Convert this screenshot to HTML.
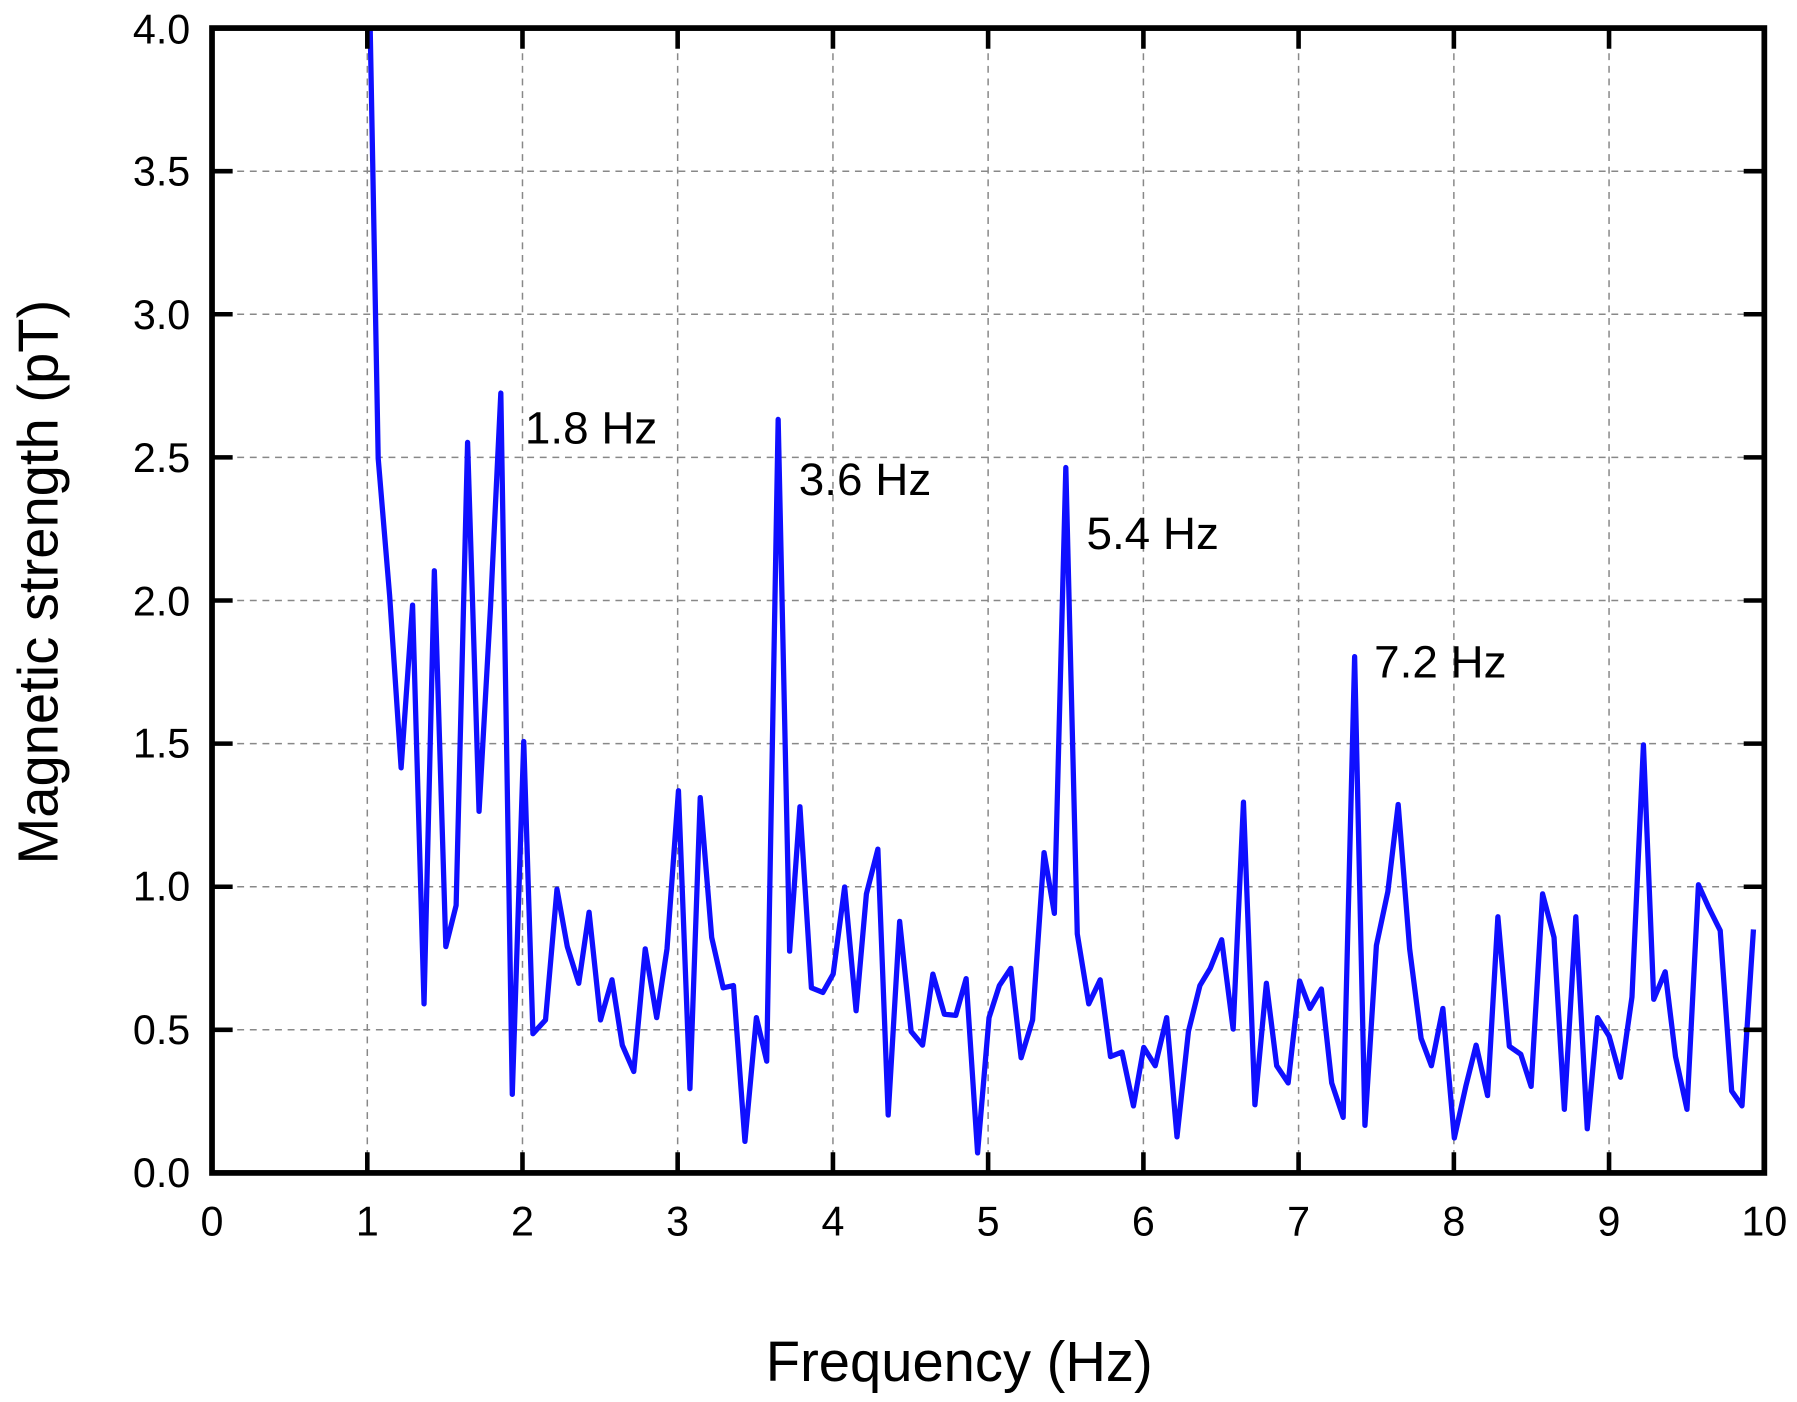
<!DOCTYPE html>
<html><head><meta charset="utf-8"><style>
html,body{margin:0;padding:0;background:#fff}
svg{display:block}
text{font-family:"Liberation Sans",Arial,sans-serif;fill:#000}
</style></head><body>
<svg width="1797" height="1402" viewBox="0 0 1568 1223.4" preserveAspectRatio="none" xmlns="http://www.w3.org/2000/svg">
<g stroke="#888" stroke-width="1.3" stroke-dasharray="6,5" fill="none">
<path d="M320.5 24.5V1023.5M455.9 24.5V1023.5M591.3 24.5V1023.5M726.8 24.5V1023.5M862.2 24.5V1023.5M997.7 24.5V1023.5M1133.1 24.5V1023.5M1268.6 24.5V1023.5M1404 24.5V1023.5"/>
<path d="M185 149.4H1539.5M185 274.2H1539.5M185 399.1H1539.5M185 524H1539.5M185 648.9H1539.5M185 773.8H1539.5M185 898.6H1539.5"/>
</g>
<polyline fill="none" stroke="#0f0fff" stroke-width="4.6" stroke-linejoin="round" points="323,24 330,400 340,520 350,670 360,528 370,876 379,498 389,826 398,790 408,386 418,708 428,530 437,343 447,955 457,647 465,902 476,890 486,776 495,826 505,858 514,796 524,890 534,855 543,912 553,935 563,828 573,888 582,828 592,690 602,950 611,696 621,818 631,862 640,860 650,996 660,888 669,926 679,366 689,830 698,704 708,862 718,866 727,850 737,774 747,882 756,780 766,741 775,973 785,804 795,900 805,912 814,850 824,885 834,886 843,854 853,1006 863,888 872,860 882,845 891,923 901,890 911,744 920,797 930,408 940,815 950,876 960,855 969,922 979,918 989,965 998,914 1008,930 1018,888 1027,992 1037,900 1047,860 1056,845 1066,820 1076,898 1085,700 1095,964 1105,858 1114,930 1124,945 1134,856 1143,880 1153,863 1162,945 1172,975 1182,573 1191,982 1201,825 1211,778 1220,702 1230,828 1240,906 1249,930 1259,880 1269,993 1279,948 1288,912 1298,956 1307,800 1317,913 1327,920 1336,948 1346,780 1356,818 1365,968 1375,800 1385,985 1394,888 1404,904 1414,940 1424,870 1434,650 1443,872 1453,848 1462,922 1472,968 1482,772 1491,792 1501,812 1511,952 1520,965 1530,811"/>
<g stroke="#000" stroke-width="4" fill="none">
<path d="M320.5 1023.5v-18M455.9 1023.5v-18M591.3 1023.5v-18M726.8 1023.5v-18M862.2 1023.5v-18M997.7 1023.5v-18M1133.1 1023.5v-18M1268.6 1023.5v-18M1404 1023.5v-18"/>
<path d="M320.5 24.5v18M455.9 24.5v18M591.3 24.5v18M726.8 24.5v18M862.2 24.5v18M997.7 24.5v18M1133.1 24.5v18M1268.6 24.5v18M1404 24.5v18"/>
<path d="M185 149.4h18M185 274.2h18M185 399.1h18M185 524h18M185 648.9h18M185 773.8h18M185 898.6h18"/>
<path d="M1539.5 149.4h-18M1539.5 274.2h-18M1539.5 399.1h-18M1539.5 524h-18M1539.5 648.9h-18M1539.5 773.8h-18M1539.5 898.6h-18"/>
</g>
<rect x="185" y="24.5" width="1354.5" height="999" fill="none" stroke="#000" stroke-width="5"/>
<g font-size="36" text-anchor="end">
<text x="166" y="1036">0.0</text><text x="166" y="911">0.5</text><text x="166" y="786">1.0</text><text x="166" y="661">1.5</text><text x="166" y="537">2.0</text><text x="166" y="412">2.5</text><text x="166" y="287">3.0</text><text x="166" y="162">3.5</text><text x="166" y="38">4.0</text>
</g>
<g font-size="36" text-anchor="middle">
<text x="185" y="1078">0</text><text x="320.5" y="1078">1</text><text x="455.9" y="1078">2</text><text x="591.3" y="1078">3</text><text x="726.8" y="1078">4</text><text x="862.2" y="1078">5</text><text x="997.7" y="1078">6</text><text x="1133.1" y="1078">7</text><text x="1268.6" y="1078">8</text><text x="1404" y="1078">9</text><text x="1539.5" y="1078">10</text>
</g>
<text x="837" y="1205" font-size="49" text-anchor="middle">Frequency (Hz)</text>
<text transform="translate(50,508) rotate(-90)" font-size="49" text-anchor="middle">Magnetic strength (pT)</text>
<g font-size="40">
<text x="458" y="387">1.8 Hz</text><text x="697" y="432">3.6 Hz</text><text x="948" y="479">5.4 Hz</text><text x="1199" y="591">7.2 Hz</text>
</g>
</svg>
</body></html>
